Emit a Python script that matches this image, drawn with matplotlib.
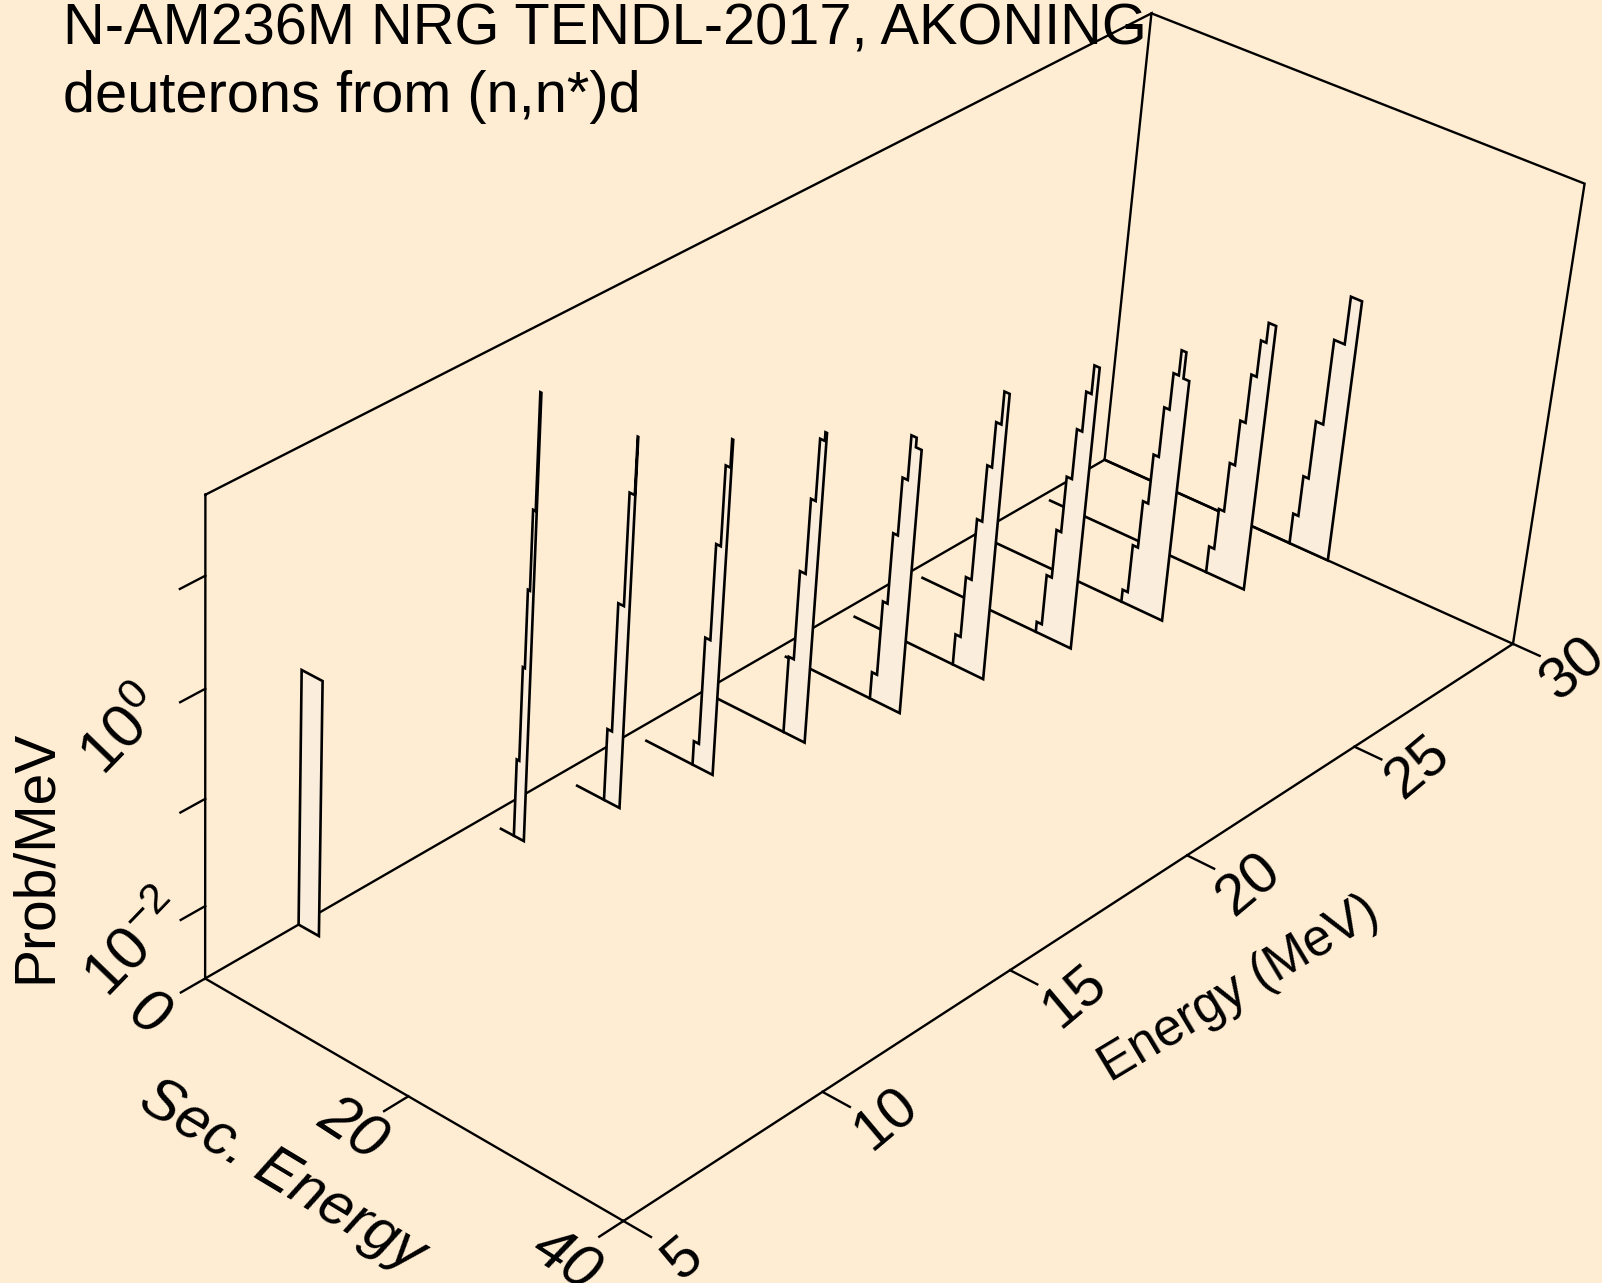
import numpy as np
import matplotlib
matplotlib.use("Agg")
import matplotlib.pyplot as plt
from matplotlib.patches import Polygon

plt.rcParams['font.family'] = ['Liberation Sans', 'DejaVu Sans']
plt.rcParams['mathtext.fontset'] = 'custom'
plt.rcParams['mathtext.rm'] = 'Liberation Sans'
plt.rcParams['mathtext.it'] = 'Liberation Sans:italic'

BG = '#FFEDD3'
FILL = '#FAEDDC'

# ---------- data: E (MeV), secondary-energy bin edges (MeV), Prob/MeV per bin ----------
E_LIM = (5, 30)
SEC_LIM = (0, 40)
PROB_LIM = (10 ** -2.69, 10 ** 1.7)
E_TICKS = [5, 10, 15, 20, 25, 30]
SEC_TICKS = [0, 20, 40]
PROB_TICKS = [1e-2, 1e-1, 1e0, 1e1]
PROB_LABELS = {1e-2: r'$\mathit{10}^{\mathit{-2}}$', 1e0: r'$\mathit{10}^{\mathit{0}}$'}

inc_30 = 30.0
edges_30 = [18.6, 19.1, 19.6, 20.3, 21.3, 22.35]
log_30 = [-2.39, -1.99, -1.42, -0.59, -0.13]
start_30 = 0.0
inc_28 = 28.0
edges_28 = [16.6, 17.1, 17.6, 18.1, 18.6, 19.1, 19.6, 20.3]
log_28 = [-2.43, -2.03, -1.55, -1.11, -0.64, -0.29, -0.10]
start_28 = 0.93
inc_26 = 26.0
edges_26 = [14.6, 15.1, 15.6, 16.1, 16.6, 17.1, 17.6, 18.05, 18.6]
log_26 = [-2.57, -2.10, -1.64, -1.16, -0.68, -0.33, -0.09, -0.34]
start_26 = 1.1
inc_24 = 24.0
edges_24 = [12.65, 13.15, 13.65, 14.1, 14.6, 15.1, 15.6, 16.1]
log_24 = [-2.59, -2.10, -1.63, -1.09, -0.61, -0.23, 0.04]
start_24 = 1.27
inc_22 = 22.0
edges_22 = [11.1, 11.6, 12.15, 12.65, 13.1, 13.6, 14.1]
log_22 = [-2.39, -1.80, -1.21, -0.67, -0.24, 0.07]
start_22 = 1.24
inc_20 = 20.0
edges_20 = [9.7, 10.2, 10.65, 11.1, 11.6, 12.1, 12.65]
log_20 = [-2.43, -1.71, -1.03, -0.48, -0.06, -0.15]
start_20 = 1.26
inc_18 = 18.0
edges_18 = [8.1, 8.6, 9.15, 9.6, 10.05, 10.2]
log_18 = [-1.95, -1.10, -0.39, 0.19, 0.27]
start_18 = 1.4
inc_16 = 16.0
edges_16 = [6.2, 6.7, 7.2, 7.65, 8.1, 8.2]
log_16 = [-2.46, -1.43, -0.52, 0.23, 0.49]
start_16 = 1.56
inc_14 = 14.0
edges_14 = [4.7, 5.15, 5.7, 6.2, 6.25]
log_14 = [-2.00, -0.78, 0.27, 0.80]
start_14 = 2.0
inc_12 = 12.0
edges_12 = [3.2, 3.45, 3.65, 3.85, 4.1, 4.2]
log_12 = [-1.95, -1.06, -0.33, 0.41, 1.47]
start_12 = 1.9
inc_07 = 7.3
edges_07 = [0.0, 2.05]
log_07 = [-0.30]
start_07 = 0.0

SPECTRA = [
    (inc_30, edges_30, log_30, start_30), (inc_28, edges_28, log_28, start_28),
    (inc_26, edges_26, log_26, start_26), (inc_24, edges_24, log_24, start_24),
    (inc_22, edges_22, log_22, start_22), (inc_20, edges_20, log_20, start_20),
    (inc_18, edges_18, log_18, start_18), (inc_16, edges_16, log_16, start_16),
    (inc_14, edges_14, log_14, start_14), (inc_12, edges_12, log_12, start_12),
    (inc_07, edges_07, log_07, start_07),
]

# ---------- perspective of the 3-D box, solved from where its corners fall on the canvas ----------
W, H = 1602, 1283
s = W / 1568
CORNERS = {(0, 0, 0): (201, 958), (1, 0, 0): (610, 1195), (1, 1, 0): (1481, 630),
           (0, 1, 0): (1081, 450), (0, 0, 1): (201, 484), (0, 1, 1): (1127, 13),
           (1, 1, 1): (1551, 180)}
M, R = [], []
for (u, v, w), (x, y) in CORNERS.items():
    x *= s
    y *= s
    M.append([u, v, w, 1, 0, 0, 0, 0, -x * u, -x * v, -x * w]); R.append(x)
    M.append([0, 0, 0, 0, u, v, w, 1, -y * u, -y * v, -y * w]); R.append(y)
P = np.append(np.linalg.lstsq(np.array(M, float), np.array(R, float), rcond=None)[0], 1).reshape(3, 4)


def box(sec, inc, logp):
    u = (sec - SEC_LIM[0]) / (SEC_LIM[1] - SEC_LIM[0])
    v = (inc - E_LIM[0]) / (E_LIM[1] - E_LIM[0])
    lo, hi = np.log10(PROB_LIM)
    w = (logp - lo) / (hi - lo)
    return u, v, w


def raw(u, v, w):
    h = P @ np.array([u, v, w, 1.0])
    return h[:2] / h[2]


def pr(sec, inc, logp):
    return raw(*box(sec, inc, logp))


LOW = np.log10(PROB_LIM[0])
HIGH = np.log10(PROB_LIM[1])

fig = plt.figure(figsize=(W / 100, H / 100), dpi=100, facecolor=BG)
ax = fig.add_axes([0, 0, 1, 1])
ax.set_xlim(0, W)
ax.set_ylim(H, 0)
ax.axis('off')

LW = 1.7
LW_SPEC = 1.9


def seg(*pts, z=1, lw=LW):
    a = np.array(pts)
    ax.plot(a[:, 0], a[:, 1], zorder=z, color='black', lw=lw,
            solid_capstyle='projecting', solid_joinstyle='miter')


S0, S1 = SEC_LIM
E0, E1 = E_LIM
# box frame
seg(pr(S0, E0, HIGH), pr(S0, E0, LOW), pr(S0, E1, LOW), pr(S0, E1, HIGH), pr(S0, E0, HIGH))
seg(pr(S0, E1, LOW), pr(S1, E1, LOW), pr(S1, E1, HIGH), pr(S0, E1, HIGH))
seg(pr(S0, E0, LOW), pr(S1, E0, LOW), pr(S1, E1, LOW))

# ticks
TV = -0.0235
TU = 0.062
for p in PROB_TICKS:
    u, v, w = box(S0, E0, np.log10(p))
    seg(raw(u, v, w), raw(u, v + TV, w))
for t in SEC_TICKS:
    u, v, w = box(t, E0, LOW)
    seg(raw(u, v, w), raw(u, v + TV, w))
for t in E_TICKS:
    u, v, w = box(S1, t, LOW)
    seg(raw(u, v, w), raw(u + TU, v, w))

# spectra, painted from the back to the front
for k, (inc, edges, logs, start) in enumerate(SPECTRA):
    z = 2 + k
    outline = [pr(edges[0], inc, LOW)]
    for i, lp in enumerate(logs):
        outline.append(pr(edges[i], inc, lp))
        outline.append(pr(edges[i + 1], inc, lp))
    outline.append(pr(edges[-1], inc, LOW))
    ax.add_patch(Polygon(np.array(outline), closed=True, facecolor=FILL, edgecolor='black',
                         lw=LW_SPEC, joinstyle='miter', zorder=z + 0.5))
    if start < edges[0]:
        seg(pr(start, inc, LOW), pr(edges[0], inc, LOW), z=z, lw=LW_SPEC)

# text
TC = dict(color='black', ha='center', va='center', rotation_mode='anchor')
SEC_OFF = {0: (-58, 37), 20: (-57, 34), 40: (-59, 40)}
for t in SEC_TICKS:
    x, y = pr(t, E0, LOW)
    dx, dy = SEC_OFF[t]
    ax.text(x + dx, y + dy, str(t), fontsize=44, rotation=-33, style='italic', **TC)
E_OFF = {5: (60, 38), 10: (64, 27), 15: (64, 26), 20: (62, 30), 25: (64, 22), 30: (61, 25)}
for t in E_TICKS:
    x, y = pr(S1, t, LOW)
    dx, dy = E_OFF[t]
    ax.text(x + dx, y + dy, str(t), fontsize=42, rotation=40, **TC)
Z_OFF = {1e-2: (-68, 40), 1e0: (-81, 44)}
for p, lab in PROB_LABELS.items():
    x, y = pr(S0, E0, np.log10(p))
    dx, dy = Z_OFF[p]
    ax.text(x + dx, y + dy, lab, fontsize=44, rotation=46, **TC)

ax.text(282, 1176, 'Sec. Energy', fontsize=42.5, rotation=-31, style='italic', **TC)
ax.text(1239, 989, 'Energy (MeV)', fontsize=37, rotation=31, **TC)
ax.text(36, 856, 'Prob/MeV', fontsize=41, rotation=90, **TC)
ax.text(63, 44, 'N-AM236M NRG TENDL-2017, AKONING', fontsize=41.6, ha='left', va='baseline', color='black', zorder=20)
ax.text(63, 112, 'deuterons from (n,n*)d', fontsize=41.6, ha='left', va='baseline', color='black', zorder=20)

fig.savefig('out.png', dpi=100, facecolor=BG)
